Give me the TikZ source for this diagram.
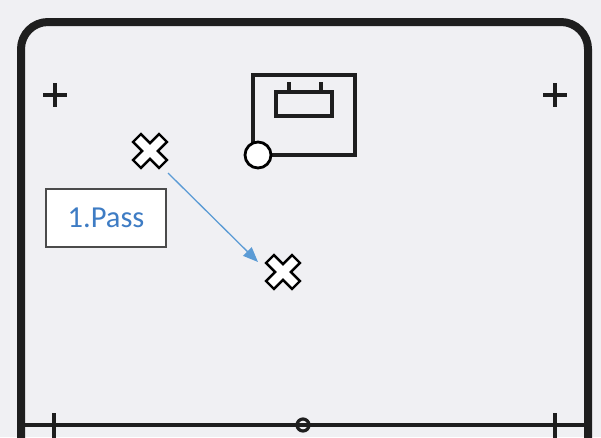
\documentclass[tikz,border=0pt]{standalone}
\usepackage{fontspec}
\setmainfont{Carlito}
\usetikzlibrary{arrows.meta,calc}
\definecolor{bgcol}{RGB}{240,240,243}
\definecolor{ink}{RGB}{30,30,30}
\definecolor{passblue}{RGB}{62,124,196}
\definecolor{arrowblue}{RGB}{91,155,213}
\tikzset{
  court/.style={draw=ink,line width=8pt,rounded corners=27pt},
  linemark/.style={draw=ink,line width=3.2pt},
  thinmark/.style={draw=ink,line width=3.2pt},
  player/.style={draw=black,fill=white,line width=2.4pt,line join=miter},
  spot/.style={minimum size=34pt,inner sep=0pt},
  passarrow/.style={draw=arrowblue,line width=1.3pt,-{Triangle[length=15pt,width=12pt]}},
  labelbox/.style={draw=ink!80,line width=1.3pt,fill=white,minimum width=120pt,
    minimum height=58pt,inner sep=0pt,text=passblue,
    font=\fontsize{30.5}{36}\selectfont},
  xplayer/.pic={
    \path[player,rotate=45]
      (5.6,5.6) -- (18.4,5.6) -- (18.4,-5.6) -- (5.6,-5.6) -- (5.6,-18.4)
      -- (-5.6,-18.4) -- (-5.6,-5.6) -- (-18.4,-5.6) -- (-18.4,5.6)
      -- (-5.6,5.6) -- (-5.6,18.4) -- (5.6,18.4) -- cycle;
  }
}
\begin{document}
\begin{tikzpicture}[x=1pt,y=-1pt]
  % page background
  \fill[bgcol] (0,0) rectangle (601,437);
  \useasboundingbox (0,0) rectangle (601,437);

  % court outline and halfway line
  \draw[court] (21,445) -- (21,22) -- (588,22) -- (588,445);
  \draw[linemark] (21,425) -- (588,425);
  \draw[thinmark] (54,413) -- (54,440);
  \draw[thinmark] (555,413) -- (555,440);
  \draw[thinmark] (303,425) circle (6);

  % corner markers
  \draw[thinmark] (43,95) -- (67,95) (55,83) -- (55,107);
  \draw[thinmark] (543,95) -- (567,95) (555,83) -- (555,107);

  % goal with net
  \draw[linemark,line width=3.6pt] (253,155) -- (253,75) -- (355,75) -- (355,155) -- (258,155);
  \draw[linemark] (276,92) rectangle (332,116);
  \draw[linemark] (289,82) -- (289,92) (321,82) -- (321,92);
  \node[circle,draw=black,fill=white,line width=2.8pt,minimum size=26pt,inner sep=0pt] (keeper) at (258,155) {};

  % players
  \node[spot] (p1) at (150,151) {};
  \node[spot] (p2) at (283,272) {};
  \pic at (p1) {xplayer};
  \pic at (p2) {xplayer};

  % pass
  \draw[passarrow] ($(p1)+(18,22)$) -- ($(p2)+(-25,-10)$);
  \node[labelbox] (pass) at (106,218) {1.Pass};
\end{tikzpicture}
\end{document}
